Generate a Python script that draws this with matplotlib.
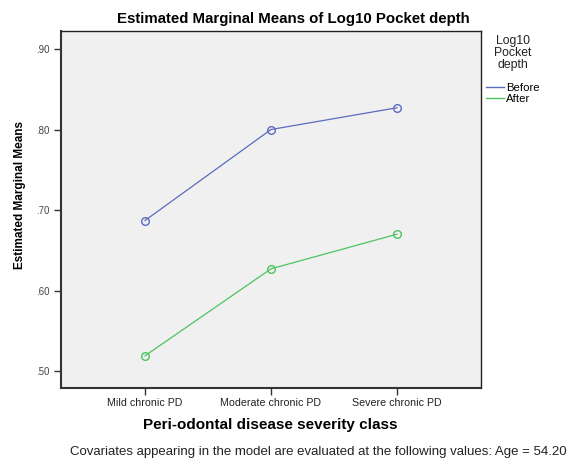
import matplotlib
matplotlib.use("Agg")
import matplotlib.pyplot as plt
from matplotlib.lines import Line2D

plt.rcParams['font.family'] = ['Liberation Sans', 'DejaVu Sans']

categories = ["Mild chronic PD", "Moderate chronic PD", "Severe chronic PD"]
before = [0.687, 0.800, 0.827]
after = [0.519, 0.627, 0.670]
yticks = [0.50, 0.60, 0.70, 0.80, 0.90]
ytick_labels = [".50", ".60", ".70", ".80", ".90"]

c_before = "#5b6bc0"
c_after = "#4cc45e"

fig = plt.figure(figsize=(5.71, 4.59), dpi=100)
ax = fig.add_axes([61 / 571, 1 - 388 / 459, 420 / 571, (388 - 30.7) / 459])
ax.set_facecolor("#f0f0f0")

x = list(range(len(categories)))
ax.plot(x, before, color=c_before, lw=0.9, marker="o", ms=5.5, mfc="none", mec=c_before, mew=1.0)
ax.plot(x, after, color=c_after, lw=0.9, marker="o", ms=5.5, mfc="none", mec=c_after, mew=1.0)

ax.set_xlim(-0.667, 2.667)
ax.set_ylim(0.479, 0.9227)
ax.set_xticks(x)
ax.set_xticklabels(categories, fontsize=7.7, color="#222222")
ax.set_yticks(yticks)
ax.set_yticklabels(ytick_labels, fontsize=7, color="#444444")
ax.tick_params(axis="both", direction="out", length=5, width=1, color="#333333", pad=3)
ax.tick_params(axis="x", pad=2)

for side in ["top", "right"]:
    ax.spines[side].set_color("#222222")
    ax.spines[side].set_linewidth(1.0)
for side in ["left", "bottom"]:
    ax.spines[side].set_color("#333333")
    ax.spines[side].set_linewidth(1.5)

fig.text(293 / 571, 1 - 19 / 459, "Estimated Marginal Means of Log10 Pocket depth",
         ha="center", va="center", fontsize=10.8, fontweight="bold")
fig.text(20 / 571, 1 - 195 / 459, "Estimated Marginal Means", rotation=90,
         ha="center", va="center", fontsize=8.5, fontweight="bold")
fig.text(270 / 571, 1 - 425 / 459, "Peri-odontal disease severity class",
         ha="center", va="center", fontsize=11, fontweight="bold")
fig.text(70 / 571, 1 - 452 / 459,
         "Covariates appearing in the model are evaluated at the following values: Age = 54.20",
         ha="left", va="center", fontsize=9.5, color="#222222")

# legend placed to the right of the plot area
fig.text(513 / 571, 1 - 53 / 459, "Log10\nPocket\ndepth", ha="center", va="center",
         fontsize=8.8, linespacing=0.95, color="#222222")
handles = [Line2D([0], [0], color=c_before, lw=1.0),
           Line2D([0], [0], color=c_after, lw=1.0)]
fig.legend(handles, ["Before", "After"], loc="upper left",
           bbox_to_anchor=(478 / 571, 1 - 75 / 459), frameon=False,
           fontsize=8.2, handlelength=1.6, handletextpad=0.2, labelspacing=0.05,
           borderpad=0.2)

fig.savefig("out.png", dpi=100)
